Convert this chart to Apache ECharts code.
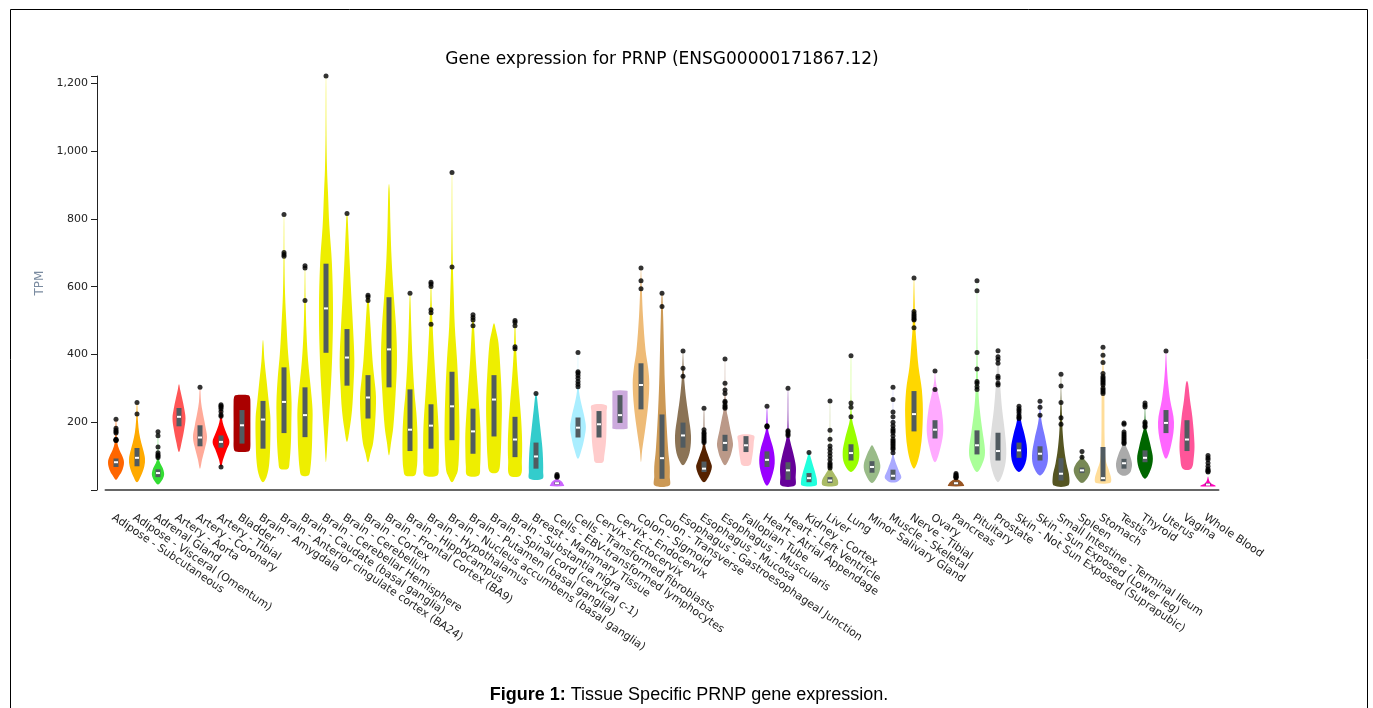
<!DOCTYPE html>
<html>
<head>
<meta charset="utf-8">
<script src="https://cdn.jsdelivr.net/npm/echarts@6/dist/echarts.min.js"></script>
<style>
  html, body { margin: 0; padding: 0; background: #fff; }
  #chart { width: 1373px; height: 708px; }
</style>
</head>
<body>
<div id="chart"></div>
<script>
// tissues, in GTEx order
const tissues = [
  'Adipose - Subcutaneous', 'Adipose - Visceral (Omentum)', 'Adrenal Gland', 'Artery - Aorta',
  'Artery - Coronary', 'Artery - Tibial', 'Bladder', 'Brain - Amygdala',
  'Brain - Anterior cingulate cortex (BA24)', 'Brain - Caudate (basal ganglia)',
  'Brain - Cerebellar Hemisphere', 'Brain - Cerebellum', 'Brain - Cortex',
  'Brain - Frontal Cortex (BA9)', 'Brain - Hippocampus', 'Brain - Hypothalamus',
  'Brain - Nucleus accumbens (basal ganglia)', 'Brain - Putamen (basal ganglia)',
  'Brain - Spinal cord (cervical c-1)', 'Brain - Substantia nigra', 'Breast - Mammary Tissue',
  'Cells - EBV-transformed lymphocytes', 'Cells - Transformed fibroblasts', 'Cervix - Ectocervix',
  'Cervix - Endocervix', 'Colon - Sigmoid', 'Colon - Transverse',
  'Esophagus - Gastroesophageal Junction', 'Esophagus - Mucosa', 'Esophagus - Muscularis',
  'Fallopian Tube', 'Heart - Atrial Appendage', 'Heart - Left Ventricle', 'Kidney - Cortex',
  'Liver', 'Lung', 'Minor Salivary Gland', 'Muscle - Skeletal', 'Nerve - Tibial', 'Ovary',
  'Pancreas', 'Pituitary', 'Prostate', 'Skin - Not Sun Exposed (Suprapubic)',
  'Skin - Sun Exposed (Lower leg)', 'Small Intestine - Terminal Ileum', 'Spleen', 'Stomach',
  'Testis', 'Thyroid', 'Uterus', 'Vagina', 'Whole Blood'
];

const tissueColors = [
  '#FF6600', '#FFAA00', '#33DD33', '#FF5555', '#FFAA99', '#FF0000', '#AA0000', '#EEEE00',
  '#EEEE00', '#EEEE00', '#EEEE00', '#EEEE00', '#EEEE00', '#EEEE00', '#EEEE00', '#EEEE00',
  '#EEEE00', '#EEEE00', '#EEEE00', '#EEEE00', '#33CCCC', '#CC66FF', '#AAEEFF', '#FFCCCC',
  '#CCAADD', '#EEBB77', '#CC9955', '#8B7355', '#552200', '#BB9988', '#FFCCCC', '#9900FF',
  '#660099', '#22FFDD', '#AABB66', '#99FF00', '#99BB88', '#AAAAFF', '#FFD700', '#FFAAFF',
  '#995522', '#AAFF99', '#DDDDDD', '#0000FF', '#7777FF', '#555522', '#778855', '#FFDD99',
  '#AAAAAA', '#006600', '#FF66FF', '#FF5599', '#FF00BB'
];

// box plot stats (TPM)
const q1 = [68, 70, 38, 188, 129, 125, 137, 122, 168, 156, 405, 308, 211, 303, 115, 122, 147, 107,
  158, 97, 63, 16, 155, 155, 198, 238, 33, 125, 53, 115, 112, 68, 30, 23, 21, 87, 51, 30, 173,
  152, 16, 105, 87, 95, 87, 28, 50, 26, 63, 82, 168, 115, 13];
const medians = [82, 95, 50, 216, 155, 142, 191, 208, 260, 221, 536, 391, 273, 415, 178, 190, 247,
  173, 267, 149, 99, 20, 184, 194, 221, 310, 94, 161, 63, 139, 132, 89, 58, 35, 28, 109, 68, 42,
  224, 178, 20, 132, 115, 117, 107, 48, 58, 35, 79, 95, 198, 149, 16];
const q3 = [93, 124, 61, 242, 191, 161, 236, 263, 362, 303, 668, 475, 339, 569, 297, 253, 349, 240,
  339, 216, 140, 24, 214, 233, 280, 374, 223, 199, 84, 163, 159, 114, 82, 50, 38, 135, 85, 60,
  292, 206, 24, 176, 169, 140, 129, 94, 66, 127, 92, 117, 236, 206, 20];

// violin outlines: [TPM, width as a share of the category band]
const violinShapes = [
  [[30,0],[42,0.3],[60,0.62],[82,0.76],[100,0.6],[120,0.3],[140,0.12],[170,0.05],[209,0.02]],
  [[23,0],[40,0.35],[70,0.7],[92,0.76],[115,0.62],[140,0.4],[170,0.2],[200,0.1],[226,0.05],[258,0.02]],
  [[16,0],[25,0.3],[40,0.55],[50,0.58],[65,0.45],[80,0.2],[95,0.06],[130,0.02],[172,0.01]],
  [[112,0],[140,0.25],[180,0.5],[212,0.62],[240,0.5],[270,0.3],[295,0.12],[312,0]],
  [[63,0],[90,0.2],[120,0.45],[155,0.67],[190,0.5],[230,0.25],[260,0.1],[303,0.02]],
  [[68,0],[90,0.2],[120,0.55],[142,0.8],[165,0.55],[190,0.25],[210,0.1],[252,0.02]],
  [[114,0.62],[122,0.78],[150,0.8],[200,0.8],[260,0.8],[274,0.76],[280,0.62]],
  [[23,0],[40,0.35],[80,0.6],[150,0.7],[216,0.7],[260,0.55],[320,0.35],[380,0.15],[443,0]],
  [[63,0.38],[80,0.52],[140,0.66],[200,0.7],[260,0.72],[330,0.6],[400,0.4],[480,0.25],[580,0.1],[690,0.04],[813,0.01]],
  [[43,0.33],[60,0.5],[120,0.65],[180,0.7],[236,0.72],[300,0.55],[380,0.3],[460,0.15],[557,0.06],[662,0.01]],
  [[82,0],[150,0.15],[286,0.43],[404,0.6],[532,0.67],[671,0.56],[779,0.32],[878,0.19],[947,0.1],[1050,0.04],[1222,0.01]],
  [[142,0],[180,0.25],[236,0.48],[310,0.62],[384,0.7],[482,0.57],[581,0.4],[680,0.24],[779,0.1],[816,0.03]],
  [[82,0],[110,0.25],[137,0.48],[200,0.68],[275,0.76],[330,0.6],[384,0.43],[482,0.24],[559,0.08],[575,0.02]],
  [[102,0],[140,0.2],[186,0.41],[285,0.63],[384,0.76],[482,0.67],[581,0.44],[680,0.25],[779,0.14],[878,0.07],[902,0.02]],
  [[43,0.45],[60,0.62],[87,0.7],[167,0.71],[230,0.6],[285,0.43],[384,0.24],[482,0.12],[581,0.02]],
  [[43,0.6],[70,0.73],[120,0.75],[186,0.72],[285,0.52],[384,0.32],[482,0.16],[560,0.06],[613,0.02]],
  [[23,0],[40,0.35],[58,0.56],[120,0.68],[186,0.71],[285,0.63],[384,0.48],[482,0.27],[581,0.16],[680,0.07],[800,0.03],[937,0.01]],
  [[43,0.55],[70,0.68],[120,0.73],[167,0.73],[230,0.62],[285,0.5],[384,0.27],[482,0.1],[517,0.02]],
  [[53,0.38],[87,0.6],[186,0.72],[255,0.75],[334,0.65],[433,0.43],[470,0.2],[492,0]],
  [[43,0.52],[87,0.65],[137,0.68],[190,0.62],[236,0.52],[334,0.27],[423,0.1],[500,0.02]],
  [[33,0.62],[55,0.68],[78,0.68],[110,0.64],[137,0.57],[186,0.4],[236,0.22],[285,0.04]],
  [[12,0.67],[18,0.6],[25,0.45],[30,0.2],[34,0]],
  [[92,0],[120,0.35],[155,0.62],[186,0.75],[214,0.62],[250,0.35],[280,0.15],[305,0.06],[345,0.02],[406,0.01]],
  [[82,0.38],[100,0.5],[140,0.66],[180,0.71],[230,0.72],[250,0.7]],
  [[181,0.68],[190,0.72],[240,0.72],[285,0.72],[293,0.68]],
  [[82,0],[117,0.11],[186,0.43],[250,0.68],[315,0.79],[360,0.68],[413,0.43],[512,0.19],[591,0.08],[655,0.01]],
  [[13,0.7],[40,0.74],[68,0.74],[117,0.59],[216,0.4],[315,0.27],[413,0.19],[512,0.11],[581,0.03]],
  [[73,0],[90,0.4],[117,0.67],[161,0.76],[216,0.54],[265,0.32],[315,0.15],[364,0.06],[410,0.01]],
  [[23,0],[40,0.45],[68,0.75],[85,0.6],[102,0.4],[127,0.14],[160,0.05],[241,0.01]],
  [[73,0],[95,0.45],[117,0.67],[137,0.76],[176,0.52],[216,0.27],[236,0.14],[290,0.04],[387,0.01]],
  [[73,0.37],[90,0.55],[117,0.68],[140,0.74],[161,0.74]],
  [[13,0],[38,0.44],[78,0.73],[117,0.63],[157,0.27],[180,0.1],[247,0.01]],
  [[13,0.65],[40,0.73],[68,0.75],[95,0.6],[117,0.43],[147,0.19],[175,0.06],[300,0.01]],
  [[13,0.68],[28,0.75],[50,0.6],[68,0.43],[97,0.16],[111,0.02]],
  [[13,0.68],[28,0.76],[48,0.41],[63,0.14],[90,0.04],[263,0.01]],
  [[53,0],[78,0.65],[112,0.79],[147,0.6],[186,0.27],[206,0.12],[250,0.03],[396,0.01]],
  [[21,0],[48,0.63],[73,0.79],[102,0.52],[122,0.22],[132,0]],
  [[23,0.3],[30,0.65],[38,0.79],[50,0.65],[63,0.48],[87,0.19],[110,0.05],[303,0.01]],
  [[63,0],[117,0.6],[216,0.84],[295,0.75],[364,0.43],[433,0.24],[482,0.13],[561,0.06],[626,0.01]],
  [[82,0],[127,0.54],[176,0.79],[236,0.63],[285,0.3],[320,0.08],[351,0.01]],
  [[12,0.76],[18,0.7],[25,0.5],[30,0.25],[34,0]],
  [[53,0],[87,0.63],[117,0.76],[176,0.51],[236,0.27],[295,0.13],[400,0.05],[618,0.01]],
  [[23,0],[58,0.56],[107,0.79],[166,0.67],[236,0.4],[295,0.24],[364,0.1],[411,0.01]],
  [[53,0],[78,0.6],[122,0.76],[166,0.51],[201,0.22],[247,0.02]],
  [[43,0],[68,0.6],[102,0.76],[147,0.54],[196,0.19],[230,0.05],[262,0.01]],
  [[13,0.67],[38,0.79],[78,0.52],[117,0.32],[166,0.17],[216,0.1],[280,0.03],[342,0.01]],
  [[21,0],[38,0.57],[58,0.79],[78,0.56],[97,0.1],[114,0.01]],
  [[21,0.68],[33,0.78],[58,0.56],[87,0.27],[137,0.16],[285,0.13],[344,0.08],[421,0.01]],
  [[43,0.2],[50,0.55],[58,0.68],[78,0.76],[107,0.51],[132,0.17],[160,0.04],[198,0.01]],
  [[33,0],[58,0.52],[92,0.75],[127,0.56],[166,0.25],[181,0.12],[220,0.03],[257,0.01]],
  [[92,0],[137,0.52],[201,0.76],[265,0.4],[315,0.2],[364,0.08],[410,0.01]],
  [[63,0.4],[97,0.65],[137,0.71],[216,0.51],[265,0.29],[315,0.1],[322,0]],
  [[11,0.75],[15,0.6],[18,0.37],[25,0.15],[35,0.05],[40,0.01]]
];

// outlier samples (TPM)
const outliers = [
  [209, 182, 176, 172, 168, 150, 148, 147, 146],
  [258, 224],
  [172, 160, 127, 110, 104, 100, 96],
  [],
  [303],
  [252, 248, 245, 240, 232, 222, 218, 68],
  [],
  [],
  [813, 701, 695, 690],
  [662, 655, 559],
  [1222],
  [816],
  [575, 570, 559],
  [],
  [581],
  [613, 608, 601, 532, 523, 489],
  [937, 658],
  [517, 509, 502, 485],
  [],
  [500, 495, 485, 423, 417],
  [285],
  [46, 42, 40, 38],
  [406, 349, 345, 338, 330, 320, 312, 305],
  [],
  [],
  [655, 618, 594],
  [581, 542],
  [410, 359, 336],
  [241, 178, 170, 165, 160, 155, 150, 145, 140],
  [387, 315, 295, 285, 262, 258, 250, 245, 241],
  [],
  [247, 190, 188, 186],
  [300, 175, 171, 165, 161],
  [111],
  [263, 176, 150, 130, 120, 110, 100, 90, 80, 75, 70, 65],
  [396, 257, 244, 216],
  [],
  [303, 267, 230, 216, 200, 190, 180, 175, 170, 160, 150, 145, 140, 135, 130, 125, 120, 110],
  [626, 527, 520, 515, 510, 505, 502, 479],
  [351, 297],
  [49, 45, 42, 40, 38, 36],
  [618, 588, 406, 357, 320, 315, 305, 297],
  [411, 393, 385, 374, 336, 330, 315, 310],
  [247, 240, 235, 228, 220, 215, 211],
  [262, 244, 221],
  [342, 307, 258, 213, 194],
  [114, 97],
  [421, 398, 376, 344, 335, 330, 325, 320, 315, 310, 300, 295, 290, 285],
  [198, 194, 171, 165, 160, 155, 150, 145, 140, 137],
  [257, 250, 245, 201, 196, 190, 186],
  [410],
  [],
  [102, 95, 90, 80, 70, 62, 58, 55, 53]
];

const yMax = 1222;
const yStep = 200;

const chart = echarts.init(document.getElementById('chart'));

const outlierPoints = [];
outliers.forEach((vals, i) => {
  vals.forEach(v => outlierPoints.push([i, v]));
});

function addCommas(v) {
  return String(v).replace(/\B(?=(\d{3})+(?!\d))/g, ',');
}

// violin + box + median for one tissue
function renderViolin(params, api) {
  const i = api.value(0);
  const shape = violinShapes[i];
  const band = api.size([1, 0])[0];
  const cx = api.coord([i, 0])[0];

  const points = [];
  shape.forEach(([v, w]) => {
    points.push([cx - w * band / 2, api.coord([i, v])[1]]);
  });
  for (let k = shape.length - 1; k >= 0; k--) {
    const [v, w] = shape[k];
    if (w === 0) continue;
    points.push([cx + w * band / 2, api.coord([i, v])[1]]);
  }

  const yq1 = api.coord([i, q1[i]])[1];
  const yq3 = api.coord([i, q3[i]])[1];
  const ymed = api.coord([i, medians[i]])[1];
  const boxW = 5;

  return {
    type: 'group',
    children: [
      {
        type: 'polygon',
        shape: { points: points, smooth: 0.35 },
        style: { fill: tissueColors[i], stroke: null }
      },
      {
        type: 'rect',
        shape: { x: cx - boxW / 2, y: yq3, width: boxW, height: Math.max(yq1 - yq3, 1) },
        style: { fill: '#515b60' }
      },
      {
        type: 'rect',
        shape: { x: cx - boxW / 2 + 0.5, y: ymed - 1, width: boxW - 1, height: 2 },
        style: { fill: '#ffffff' }
      }
    ]
  };
}

const option = {
  animation: false,
  backgroundColor: '#ffffff',
  grid: {
    left: 105.5,
    right: 154.5,
    top: 76,
    bottom: 218,
    containLabel: false
  },
  xAxis: {
    type: 'category',
    data: tissues,
    boundaryGap: true,
    offset: 3,
    axisLine: { lineStyle: { color: '#666', width: 2 } },
    axisTick: { alignWithLabel: true, length: 6, lineStyle: { color: '#222' } },
    axisLabel: {
      interval: 0,
      rotate: -34,
      margin: 19,
      align: 'left',
      verticalAlign: 'top',
      color: '#222',
      fontFamily: 'DejaVu Sans',
      fontSize: 11
    },
    splitLine: { show: false }
  },
  yAxis: {
    type: 'value',
    min: 0,
    max: yMax,
    interval: yStep,
    offset: 8.5,
    name: 'TPM',
    nameLocation: 'middle',
    nameGap: 46,
    nameTextStyle: { color: '#7a8ba0', fontFamily: 'DejaVu Sans', fontSize: 12 },
    axisLine: { show: true, lineStyle: { color: '#222', width: 1 } },
    axisTick: { show: true, length: 6, lineStyle: { color: '#222' } },
    axisLabel: {
      margin: 9,
      color: '#222',
      fontFamily: 'DejaVu Sans',
      fontSize: 11,
      formatter: v => (v > 0 && v % yStep === 0 ? addCommas(v) : '')
    },
    splitLine: { show: false }
  },
  series: [
    {
      name: 'violin',
      type: 'custom',
      renderItem: renderViolin,
      data: tissues.map((t, i) => [i]),
      encode: { x: 0 },
      z: 2
    },
    {
      name: 'outliers',
      type: 'scatter',
      data: outlierPoints,
      symbol: 'circle',
      symbolSize: 5,
      itemStyle: { color: '#000' },
      z: 3
    }
  ],
  graphic: [
    {
      type: 'rect',
      shape: { x: 10.5, y: 9.5, width: 1357, height: 720 },
      style: { fill: 'none', stroke: '#000', lineWidth: 1 },
      silent: true
    },
    {
      type: 'text',
      x: 662,
      y: 60,
      style: {
        text: 'Gene expression for PRNP (ENSG00000171867.12)',
        font: '17px "DejaVu Sans"',
        fill: '#000',
        align: 'center',
        verticalAlign: 'middle'
      }
    },
    {
      type: 'text',
      x: 689,
      y: 695,
      style: {
        text: '{b|Figure 1:} Tissue Specific PRNP gene expression.',
        font: '18px "Liberation Sans"',
        fill: '#000',
        align: 'center',
        verticalAlign: 'middle',
        rich: {
          b: { fontWeight: 'bold', fontFamily: 'Liberation Sans', fontSize: 18 }
        }
      }
    }
  ]
};

chart.setOption(option);
</script>
</body>
</html>
